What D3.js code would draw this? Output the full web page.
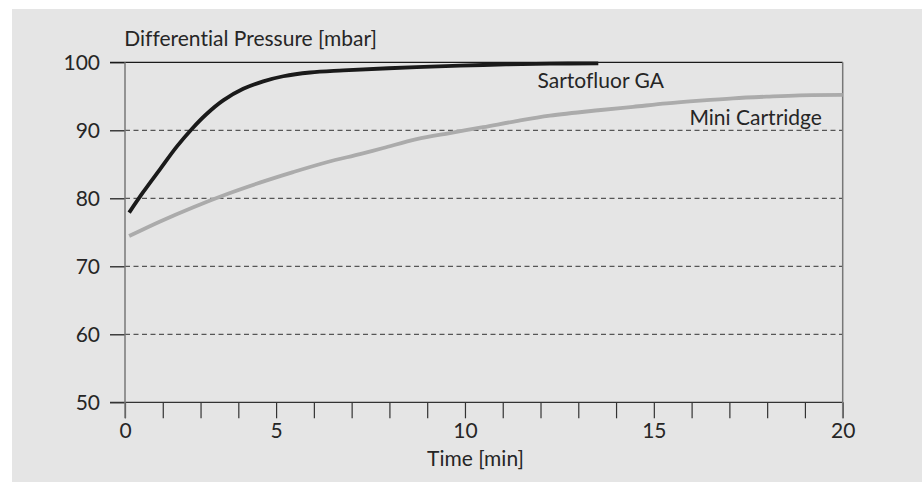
<!DOCTYPE html>
<html><head><meta charset="utf-8">
<script src="https://cdn.jsdelivr.net/npm/d3@7"></script>
<style>html,body{margin:0;padding:0;background:#fff;} text{font-variant-ligatures:none;font-feature-settings:"liga" 0;}</style>
</head><body><svg id="c" width="922" height="482"></svg>
<script>
const sartoX=[1.11,1.48,1.93,2.37,2.77,3.16,3.60,4.13,4.66,5.19,5.90,6.78,8.72,10.48,12.25,13.53];
const sartoY=[77.9,80.9,84.3,87.6,90.2,92.4,94.4,96.1,97.2,97.95,98.5,98.8,99.3,99.6,99.8,99.85];
const miniX=[1.11,1.93,2.81,3.69,4.57,5.45,6.34,7.22,7.84,8.72,9.60,10.48,11.36,12.25,13.53,14.45,15.34,16.22,17.10,17.98,18.86,20.0];
const miniY=[74.45,76.6,78.7,80.6,82.3,83.85,85.3,86.5,87.4,88.7,89.6,90.45,91.35,92.15,92.95,93.45,93.95,94.35,94.7,94.95,95.15,95.2];
const yTicks=[50,60,70,80,90,100];
const xTickVals=[1,5,10,15,20];
const xTickLabels=["0","5","10","15","20"];
const seriesNames=["Sartofluor GA","Mini Cartridge"];
const yTitle="Differential Pressure [mbar]";
const xTitle="Time [min]";

const svg=d3.select("#c");
const FONT="Lato";
const FS=21;
const TXT="#262626";
svg.append("rect").attr("x",12).attr("y",9).attr("width",910).attr("height",473).attr("fill","#e5e5e5");
const x=d3.scaleLinear().domain([1,20]).range([125,842.7]);
const y=d3.scaleLinear().domain([50,100]).range([402.3,62.3]);
const g=svg.append("g");
// gridlines
g.selectAll("line.grid").data(yTicks.filter(v=>v>50&&v<100)).join("line")
 .attr("x1",x(1)).attr("x2",x(20)).attr("y1",d=>y(d)).attr("y2",d=>y(d))
 .attr("stroke","#333").attr("stroke-width",1).attr("stroke-dasharray","5,3.5");
// y axis
const yAx=d3.axisLeft(y).tickValues(yTicks).tickSize(15).tickPadding(10).tickFormat(d3.format("d"));
const ya=g.append("g").attr("transform",`translate(${x(1)},0)`).call(yAx);
ya.select(".domain").remove();
ya.selectAll(".tick line").attr("stroke","#222").attr("stroke-width",1.3);
ya.selectAll(".tick text").attr("font-family",FONT).attr("font-size",FS).attr("fill",TXT);
// x axis
const xAx=d3.axisBottom(x).tickValues(d3.range(1,21)).tickSize(16).tickPadding(5)
 .tickFormat(d=>{const i=xTickVals.indexOf(d);return i>=0?xTickLabels[i]:"";});
const xa=g.append("g").attr("transform",`translate(0,${y(50)})`).call(xAx);
xa.select(".domain").remove();
xa.selectAll(".tick line").attr("stroke","#333").attr("stroke-width",1.2);
xa.selectAll(".tick text").attr("font-family",FONT).attr("font-size",FS).attr("fill",TXT);
// frame lines
g.append("line").attr("x1",x(1)-15).attr("x2",x(20)).attr("y1",y(100)).attr("y2",y(100)).attr("stroke","#1a1a1a").attr("stroke-width",1.3);
g.append("line").attr("x1",x(1)-15).attr("x2",x(20)).attr("y1",y(50)).attr("y2",y(50)).attr("stroke","#333").attr("stroke-width",1.3);
g.append("line").attr("x1",x(1)).attr("x2",x(1)).attr("y1",y(100)).attr("y2",y(50)+16).attr("stroke","#777").attr("stroke-width",1.5);
g.append("line").attr("x1",x(20)).attr("x2",x(20)).attr("y1",y(100)).attr("y2",y(50)+16).attr("stroke","#777").attr("stroke-width",1.5);
// lines
const line=d3.line().x(d=>x(d[0])).y(d=>y(d[1])).curve(d3.curveCatmullRom.alpha(0.5));
g.append("path").datum(miniX.map((v,i)=>[v,miniY[i]])).attr("d",line).attr("fill","none").attr("stroke","#ababab").attr("stroke-width",3.8);
g.append("path").datum(sartoX.map((v,i)=>[v,sartoY[i]])).attr("d",line).attr("fill","none").attr("stroke","#1a1a1a").attr("stroke-width",3.8);
// labels
g.append("text").attr("x",x(11.92)).attr("y",y(96.2)).text(seriesNames[0]).attr("font-family",FONT).attr("font-size",FS).attr("fill",TXT);
g.append("text").attr("x",x(19.45)).attr("y",y(90.8)).attr("text-anchor","end").text(seriesNames[1]).attr("font-family",FONT).attr("font-size",FS).attr("fill",TXT);
g.append("text").attr("x",124.3).attr("y",46).text(yTitle).attr("font-family",FONT).attr("font-size",FS).attr("fill",TXT);
g.append("text").attr("x",475.5).attr("y",465.7).attr("text-anchor","middle").text(xTitle).attr("font-family",FONT).attr("font-size",FS).attr("fill",TXT);
</script></body></html>
